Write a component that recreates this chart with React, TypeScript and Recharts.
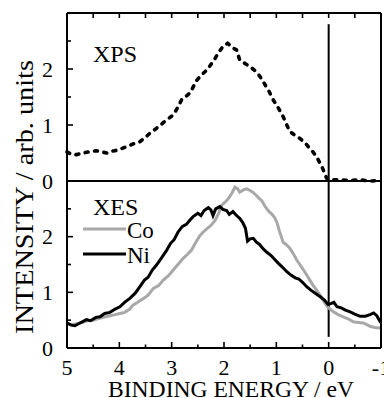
import { LineChart, Line, XAxis, YAxis, ReferenceLine } from 'recharts';

// binding energy (eV) / intensity
const xpsEnergy = [5.0, 4.92, 4.82, 4.7, 4.58, 4.44, 4.34, 4.24, 4.16, 4.09, 3.98, 3.87, 3.74, 3.61, 3.5, 3.42, 3.29, 3.15, 2.97, 2.88, 2.81, 2.65, 2.52, 2.4, 2.33, 2.25, 2.17, 2.1, 2.02, 1.93, 1.82, 1.76, 1.7, 1.6, 1.5, 1.38, 1.3, 1.25, 1.15, 1.06, 0.96, 0.87, 0.8, 0.74, 0.65, 0.55, 0.45, 0.36, 0.3, 0.23, 0.13, 0.04, 0.0, -0.2, -0.4, -0.6, -0.8, -1.0];
const xpsIntensity = [0.52, 0.48, 0.47, 0.5, 0.52, 0.54, 0.52, 0.5, 0.53, 0.54, 0.57, 0.61, 0.66, 0.7, 0.78, 0.85, 0.94, 1.05, 1.18, 1.32, 1.45, 1.57, 1.8, 1.92, 1.98, 2.08, 2.19, 2.3, 2.4, 2.46, 2.37, 2.34, 2.16, 2.1, 2.04, 1.95, 1.85, 1.77, 1.62, 1.45, 1.3, 1.15, 1.0, 0.88, 0.82, 0.76, 0.68, 0.58, 0.52, 0.43, 0.26, 0.05, 0.02, 0.02, 0.01, 0.02, 0.0, 0.01];

const coEnergy = [5.0, 4.9, 4.8, 4.7, 4.6, 4.5, 4.4, 4.3, 4.18, 4.08, 3.99, 3.9, 3.8, 3.74, 3.65, 3.54, 3.45, 3.35, 3.25, 3.16, 3.06, 2.97, 2.88, 2.78, 2.7, 2.62, 2.55, 2.46, 2.4, 2.33, 2.25, 2.17, 2.1, 2.05, 1.98, 1.92, 1.85, 1.79, 1.74, 1.7, 1.63, 1.57, 1.5, 1.45, 1.38, 1.32, 1.28, 1.22, 1.18, 1.13, 1.09, 1.03, 0.99, 0.94, 0.87, 0.8, 0.74, 0.68, 0.61, 0.55, 0.48, 0.42, 0.36, 0.3, 0.23, 0.15, 0.07, 0.0, -0.09, -0.18, -0.28, -0.38, -0.47, -0.56, -0.66, -0.73, -0.79, -0.88, -0.98, -1.0];
const coIntensity = [0.44, 0.42, 0.44, 0.46, 0.49, 0.5, 0.53, 0.55, 0.58, 0.6, 0.62, 0.64, 0.7, 0.77, 0.82, 0.89, 0.95, 1.07, 1.12, 1.22, 1.3, 1.4, 1.5, 1.61, 1.68, 1.76, 1.88, 2.02, 2.08, 2.14, 2.2, 2.29, 2.42, 2.56, 2.62, 2.68, 2.78, 2.89, 2.86, 2.8, 2.84, 2.86, 2.83, 2.8, 2.74, 2.68, 2.65, 2.55, 2.5, 2.44, 2.41, 2.34, 2.26, 2.1, 1.9, 1.85, 1.79, 1.7, 1.58, 1.5, 1.4, 1.31, 1.22, 1.13, 1.04, 0.93, 0.8, 0.72, 0.65, 0.6, 0.56, 0.52, 0.47, 0.46, 0.45, 0.42, 0.39, 0.37, 0.36, 0.35];

const niEnergy = [5.0, 4.92, 4.85, 4.75, 4.63, 4.55, 4.45, 4.37, 4.28, 4.18, 4.08, 3.99, 3.9, 3.8, 3.7, 3.61, 3.52, 3.45, 3.37, 3.29, 3.2, 3.1, 3.02, 2.95, 2.88, 2.8, 2.72, 2.65, 2.59, 2.5, 2.44, 2.38, 2.3, 2.25, 2.21, 2.16, 2.08, 2.02, 1.95, 1.9, 1.83, 1.76, 1.7, 1.64, 1.59, 1.55, 1.5, 1.44, 1.38, 1.32, 1.25, 1.18, 1.1, 1.03, 0.96, 0.88, 0.8, 0.72, 0.64, 0.57, 0.5, 0.42, 0.34, 0.25, 0.16, 0.08, 0.01, -0.05, -0.1, -0.16, -0.24, -0.32, -0.41, -0.5, -0.6, -0.7, -0.79, -0.86, -0.92, -0.98, -1.0];
const niIntensity = [0.45, 0.41, 0.4, 0.45, 0.51, 0.49, 0.55, 0.56, 0.62, 0.64, 0.7, 0.74, 0.82, 0.89, 0.98, 1.1, 1.22, 1.27, 1.4, 1.49, 1.61, 1.75, 1.88, 1.95, 2.08, 2.18, 2.22, 2.3, 2.36, 2.42, 2.38, 2.47, 2.52, 2.48, 2.38, 2.5, 2.54, 2.49, 2.47, 2.4, 2.45, 2.38, 2.33, 2.25, 2.15, 1.92, 1.96, 1.97, 1.9, 1.86, 1.78, 1.72, 1.66, 1.59, 1.52, 1.45, 1.37, 1.31, 1.26, 1.24, 1.18, 1.1, 1.04, 0.98, 0.92, 0.86, 0.78, 0.8, 0.82, 0.74, 0.72, 0.68, 0.65, 0.61, 0.57, 0.57, 0.6, 0.63, 0.58, 0.48, 0.46];

const xTicks = [-1, -0.5, 0, 0.5, 1, 1.5, 2, 2.5, 3, 3.5, 4, 4.5, 5];
const yTicks = [0, 0.5, 1, 1.5, 2, 2.5, 3];
const yLabels = [0, 1, 2];

const SERIF = { fontFamily: '"Liberation Serif", "Times New Roman", serif' };
const W = 384;
const toRows = (xs: number[], ys: number[]) => xs.map((e, i) => ({ e, v: ys[i] }));

const xps = toRows(xpsEnergy, xpsIntensity);
const co = toRows(coEnergy, coIntensity);
const ni = toRows(niEnergy, niIntensity);

const isMajor = (v: number) => Number.isInteger(v);

const BottomTick = ({ x, y, payload }: any) => {
  const v = payload.value;
  return (
    <g>
      {v !== 5 && v !== -1 && (
        <line x1={x} x2={x} y1={y} y2={y - (isMajor(v) ? 6 : 3.5)} stroke="#000" strokeWidth={1.6} />
      )}
      {isMajor(v) && (
        <text x={x} y={y + 27} textAnchor="middle" fontSize={22} style={SERIF} fill="#000">
          {v}
        </text>
      )}
    </g>
  );
};

const TopTick = ({ x, y, payload }: any) => {
  const v = payload.value;
  if (v === 5 || v === -1) return <g />;
  return <line x1={x} x2={x} y1={y} y2={y + 5} stroke="#000" strokeWidth={1.6} />;
};

const LeftTick = ({ x, y, payload }: any) => {
  const v = payload.value;
  return (
    <g>
      {v !== 0 && v !== 3 && (
        <line x1={x} x2={x + (isMajor(v) ? 6 : 4)} y1={y} y2={y} stroke="#000" strokeWidth={1.6} />
      )}
      {yLabels.includes(v) && (
        <text x={x - 14} y={y + 7.5} textAnchor="end" fontSize={22} style={SERIF} fill="#000">
          {v}
        </text>
      )}
    </g>
  );
};

const RightTick = ({ x, y, payload }: any) => {
  const v = payload.value;
  if (v === 0 || v === 3) return <g />;
  return <line x1={x} x2={x - (isMajor(v) ? 6 : 4)} y1={y} y2={y} stroke="#000" strokeWidth={1.6} />;
};

const axisLine = { stroke: '#000', strokeWidth: 2 };

const App = () => {
  return (
    <div style={{ position: 'absolute', left: 0, top: 0, width: W, height: 398, ...SERIF }}>
      {/* XPS panel */}
      <div style={{ position: 'absolute', left: 0, top: 0 }}>
        <LineChart width={W} height={200} margin={{ top: 12, right: 2, bottom: 19, left: 66 }}>
          <XAxis
            xAxisId="t"
            orientation="top"
            type="number"
            dataKey="e"
            domain={[-1, 5]}
            reversed
            ticks={xTicks}
            interval={0}
            height={1}
            tickSize={0}
            tickMargin={0}
            tickLine={false}
            axisLine={axisLine}
            tick={(p: any) => <TopTick {...p} />}
          />
          <YAxis
            yAxisId="l"
            type="number"
            domain={[0, 3]}
            ticks={yTicks}
            interval={0}
            width={1}
            tickSize={0}
            tickMargin={0}
            tickLine={false}
            axisLine={axisLine}
            tick={(p: any) => <LeftTick {...p} />}
          />
          <YAxis
            yAxisId="r"
            orientation="right"
            type="number"
            domain={[0, 3]}
            ticks={yTicks}
            interval={0}
            width={1}
            tickSize={0}
            tickMargin={0}
            tickLine={false}
            axisLine={axisLine}
            tick={(p: any) => <RightTick {...p} />}
          />
          <ReferenceLine xAxisId="t" yAxisId="l" y={0} stroke="#000" strokeWidth={2} />
          <ReferenceLine
            xAxisId="t"
            yAxisId="l"
            segment={[{ x: 0, y: 0 }, { x: 0, y: 2.8 }]}
            stroke="#000"
            strokeWidth={2}
          />
          <Line
            xAxisId="t"
            yAxisId="l"
            data={xps}
            dataKey="v"
            type="linear"
            stroke="#000"
            strokeWidth={3.6}
            strokeDasharray="3 6.5"
            strokeLinecap="round"
            dot={false}
            isAnimationActive={false}
          />
          <text x={93} y={62} fontSize={24} style={SERIF} fill="#000">XPS</text>
        </LineChart>
      </div>

      {/* XES panel */}
      <div style={{ position: 'absolute', left: 0, top: 0 }}>
        <LineChart width={W} height={398} margin={{ top: 181, right: 2, bottom: 0, left: 66 }}>
          <XAxis
            xAxisId="b"
            type="number"
            dataKey="e"
            domain={[-1, 5]}
            reversed
            ticks={xTicks}
            interval={0}
            height={50}
            tickSize={0}
            tickMargin={0}
            tickLine={false}
            axisLine={axisLine}
            tick={(p: any) => <BottomTick {...p} />}
          />
          <YAxis
            yAxisId="l"
            type="number"
            domain={[0, 3]}
            ticks={yTicks}
            interval={0}
            width={1}
            tickSize={0}
            tickMargin={0}
            tickLine={false}
            axisLine={axisLine}
            tick={(p: any) => <LeftTick {...p} />}
          />
          <YAxis
            yAxisId="r"
            orientation="right"
            type="number"
            domain={[0, 3]}
            ticks={yTicks}
            interval={0}
            width={1}
            tickSize={0}
            tickMargin={0}
            tickLine={false}
            axisLine={axisLine}
            tick={(p: any) => <RightTick {...p} />}
          />
          <ReferenceLine
            xAxisId="b"
            yAxisId="l"
            segment={[{ x: 0, y: 0.2 }, { x: 0, y: 3 }]}
            stroke="#000"
            strokeWidth={2}
          />
          <Line
            xAxisId="b"
            yAxisId="l"
            data={co}
            dataKey="v"
            type="linear"
            stroke="#a8a8a8"
            strokeWidth={3}
            dot={false}
            isAnimationActive={false}
          />
          <Line
            xAxisId="b"
            yAxisId="l"
            data={ni}
            dataKey="v"
            type="linear"
            stroke="#000"
            strokeWidth={3}
            dot={false}
            isAnimationActive={false}
          />
          <text x={93} y={215} fontSize={24} style={SERIF} fill="#000">XES</text>
          <line x1={83} x2={126} y1={229} y2={229} stroke="#a8a8a8" strokeWidth={3} />
          <text x={127} y={238} fontSize={23} style={SERIF} fill="#000">Co</text>
          <line x1={83} x2={126} y1={254} y2={254} stroke="#000" strokeWidth={3} />
          <text x={127} y={263} fontSize={23} style={SERIF} fill="#000">Ni</text>
          <text
            x={231}
            y={397}
            textAnchor="middle"
            fontSize={23}
            textLength={246}
            lengthAdjust="spacingAndGlyphs"
            style={SERIF}
            fill="#000"
          >
            BINDING ENERGY / eV
          </text>
          <text
            x={33}
            y={197}
            textAnchor="middle"
            fontSize={25}
            textLength={274}
            lengthAdjust="spacingAndGlyphs"
            style={SERIF}
            fill="#000"
            transform="rotate(-90 33 197)"
          >
            INTENSITY / arb. units
          </text>
        </LineChart>
      </div>
    </div>
  );
};

export default App;
